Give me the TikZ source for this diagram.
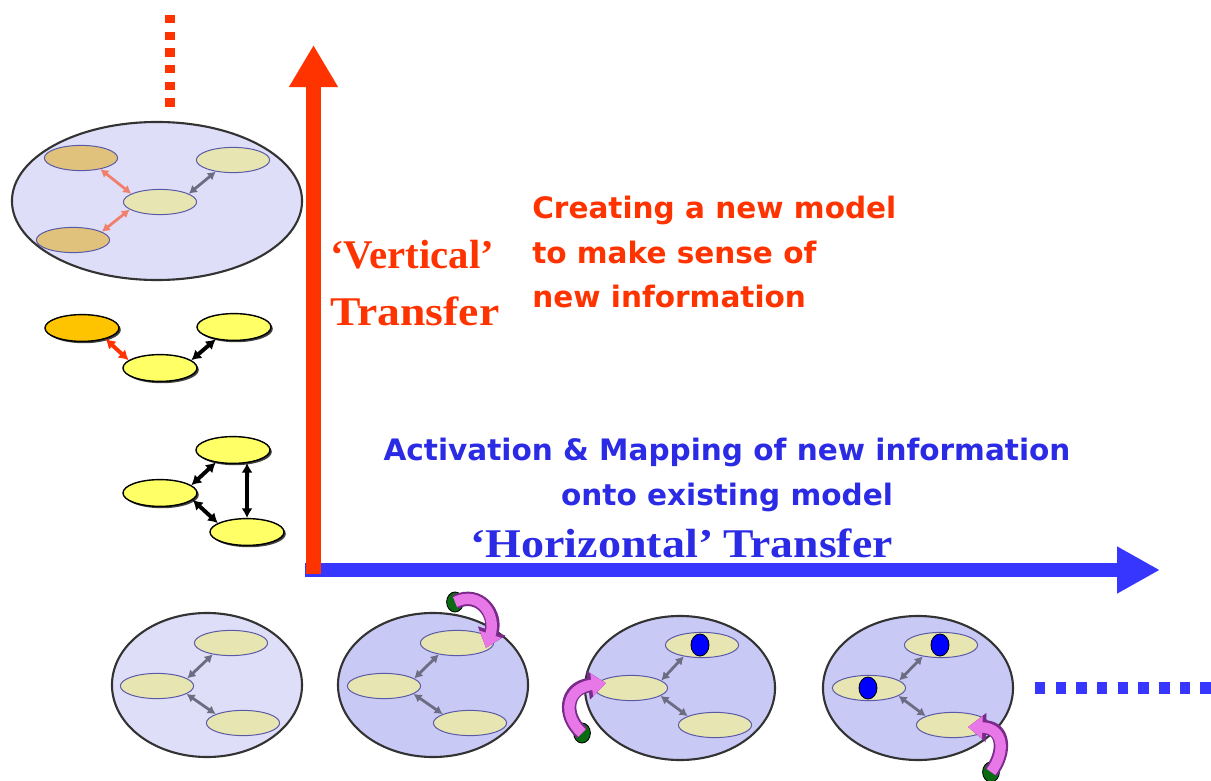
\documentclass[tikz,border=0pt]{standalone}
\usepackage{fontspec}
\setmainfont{Liberation Serif}
\newfontfamily\tahoma{DejaVu Sans}
\usepackage{tikz}
\usetikzlibrary{arrows.meta,positioning,shapes.geometric,shadows}
\usepackage{xcolor}
\definecolor{axisred}{HTML}{FF3300}
\definecolor{axisblue}{HTML}{3636FF}
\definecolor{txtblue}{HTML}{2B2BE6}
\definecolor{discfill}{HTML}{DEDEF9}
\definecolor{discdark}{HTML}{C9C9F6}
\definecolor{pale}{HTML}{E7E5B2}
\definecolor{concepttan}{HTML}{E0C27C}
\definecolor{lemon}{HTML}{FFFF66}
\definecolor{amber}{HTML}{FFC400}
\definecolor{salmon}{HTML}{F0806C}
\definecolor{linkgray}{HTML}{6C6C82}
\definecolor{pinkfill}{HTML}{E877E8}
\definecolor{pinkedge}{HTML}{7A2A8A}
\definecolor{seedgreen}{HTML}{0B6B12}
\newcommand{\widen}[1]{\scalebox{1.12}[1]{#1}}

\begin{document}
\begin{tikzpicture}[x=0.025cm,y=-0.025cm,
	disc/.style={ellipse,draw=black!80,line width=1.5pt,fill=discdark,inner sep=0pt,minimum width=4.75cm,minimum height=3.6cm},
	concept/.style={ellipse,draw=gray!70!blue,line width=0.7pt,fill=pale,inner sep=0pt,minimum width=1.83cm,minimum height=0.63cm},
	kernel/.style={ellipse,draw=black,line width=1pt,fill=lemon,inner sep=0pt,minimum width=1.85cm,minimum height=0.67cm,drop shadow={shadow xshift=1.3pt,shadow yshift=-1.3pt,fill=black!75,opacity=1}},
	maplink/.style={{Latex[length=2mm,width=2.3mm]}-{Latex[length=2mm,width=2.3mm]},line width=2pt,draw=linkgray},
	boldlink/.style={{Latex[length=2.4mm,width=2.8mm]}-{Latex[length=2.4mm,width=2.8mm]},line width=2.8pt,draw=black},
	infodot/.style={ellipse,fill=blue,draw=black,line width=0.6pt,inner sep=0pt,minimum width=0.45cm,minimum height=0.55cm},
	seeddot/.style={ellipse,fill=seedgreen,draw=black,line width=0.6pt,inner sep=0pt,minimum width=0.42cm,minimum height=0.5cm},
	infoedge/.style={draw=pinkedge,line width=0.36cm,-{Triangle[length=0.45cm,width=0.7cm]}},
	infofill/.style={draw=pinkfill,line width=0.26cm,-{Triangle[length=0.36cm,width=0.55cm]}},
	serifbig/.style={font=\fontsize{29}{40.5}\selectfont\bfseries},
	sansbig/.style={font=\tahoma\bfseries\fontsize{21}{32}\selectfont}]
	\useasboundingbox (0,0) rectangle (1211,781);

	% axes
	\coordinate (origin) at (313.5,574);
	\coordinate (vtip) at (313.5,45);
	\coordinate (hstart) at (305,570);
	\coordinate (htip) at (1160,570);
	\coordinate (vmore) at (170,15);
	\coordinate (vmoreend) at (170,108);
	\coordinate (hmore) at (1035,688);
	\coordinate (hmoreend) at (1211,688);
	\draw[axisblue,line width=0.35cm,-{Triangle[length=1.075cm,width=1.1cm]}] (hstart) -- (htip);
	\draw[axisred,line width=0.375cm,-{Triangle[length=1.05cm,width=1.15cm]}] (origin) -- (vtip);
	\draw[axisred,line width=0.25cm,dash pattern=on 0.21cm off 0.207cm] (vmore) -- (vmoreend);
	\draw[axisblue,line width=0.3cm,dash pattern=on 0.26cm off 0.257cm] (hmore) -- (hmoreend);

	% new model on top
	\node[disc,fill=discfill,minimum width=7.25cm,minimum height=3.95cm] (stack) at (157,201) {};
	\node[concept,fill=concepttan] (stackA) at (81,158) {};
	\node[concept] (stackB) at (233,160) {};
	\node[concept] (stackC) at (160,202) {};
	\node[concept,fill=concepttan] (stackD) at (73,240) {};
	\draw[maplink,draw=salmon] (stackA.-30) -- (stackC.164);
	\draw[maplink,draw=salmon] (stackD.16) -- (stackC.194);
	\draw[maplink] (stackC.16) -- (stackB.214);

	% small graphs on the vertical axis
	\node[kernel,fill=amber] (newA) at (82,328) {};
	\node[kernel] (newB) at (234,327) {};
	\node[kernel] (newC) at (160,368) {};
	\draw[boldlink,draw=axisred] (newA.-25) -- (newC.166);
	\draw[boldlink] (newC.14) -- (newB.214);

	\node[kernel] (oldT) at (233,450) {};
	\node[kernel] (oldL) at (160,493) {};
	\node[kernel] (oldB) at (247,532) {};
	\draw[boldlink] (oldL.14) -- (oldT.216);
	\draw[boldlink] (oldL.-12) -- (oldB.163);
	\draw[boldlink] (oldT.-43) -- (oldB.north);

	% models along the horizontal axis
	\node[disc,fill=discfill] (m1) at (207,685) {};
	\node[concept] (m1t) at (231,643) {};
	\node[concept] (m1l) at (157,686) {};
	\node[concept] (m1b) at (243,723) {};

	\node[disc] (m2) at (433,685) {};
	\node[concept] (m2t) at (457,643) {};
	\node[concept] (m2l) at (384,686) {};
	\node[concept] (m2b) at (470,723) {};

	\node[disc] (m3) at (680,688) {};
	\node[concept] (m3t) at (702,645) {};
	\node[concept] (m3l) at (631,688) {};
	\node[concept] (m3b) at (715,725) {};
	\node[infodot] (d3t) at (700,645) {};

	\node[disc] (m4) at (918,688) {};
	\node[concept] (m4t) at (941,645) {};
	\node[concept] (m4l) at (869,688) {};
	\node[concept] (m4b) at (953,725) {};
	\node[infodot] (d4t) at (940,645) {};
	\node[infodot] (d4l) at (868,688) {};

	\draw[maplink] (m1l.14) -- (m1t.212);
	\draw[maplink] (m1l.-15) -- (m1b.162);
	\draw[maplink] (m2l.14) -- (m2t.212);
	\draw[maplink] (m2l.-15) -- (m2b.162);
	\draw[maplink] (m3l.14) -- (m3t.212);
	\draw[maplink] (m3l.-15) -- (m3b.162);
	\draw[maplink] (m4l.14) -- (m4t.212);
	\draw[maplink] (m4l.-15) -- (m4b.162);

	% incoming information
	\node[seeddot] (g2) at (455,602) {};
	\node[seeddot] (g3) at (582,733) {};
	\node[seeddot] (g4) at (991,772) {};
	\coordinate (g2end) at (486,648);
	\coordinate (g3end) at (606,683);
	\coordinate (g4end) at (968,727);
	\draw[infoedge] (g2.center) .. controls (480,590) and (497,615) .. (g2end);
	\draw[infofill] (g2.center) .. controls (480,590) and (497,615) .. (g2end);
	\draw[infoedge] (g3.center) .. controls (562,715) and (566,688) .. (g3end);
	\draw[infofill] (g3.center) .. controls (562,715) and (566,688) .. (g3end);
	\draw[infoedge] (g4.center) .. controls (1006,752) and (1004,728) .. (g4end);
	\draw[infofill] (g4.center) .. controls (1006,752) and (1004,728) .. (g4end);

	% labels
	\node[serifbig,text=axisred,anchor=base west,align=left,inner sep=0pt] (vlabel) at (330,325) {‘Vertical’\\\widen{Transfer}};
	\node[sansbig,text=axisred,anchor=base west,align=left,inner sep=0pt] (vtext) at (532,308) {Creating a new model\\to make sense of\\new information};
	\node[sansbig,text=txtblue,anchor=base,align=center,inner sep=0pt] (htext) at (727,505) {Activation \& Mapping of new information\\onto existing model};
	\node[serifbig,text=txtblue,anchor=base west,inner sep=0pt] (hlabel) at (470,557) {\scalebox{1.13}[1]{‘Horizontal’} \widen{Transfer}};
\end{tikzpicture}
\end{document}
